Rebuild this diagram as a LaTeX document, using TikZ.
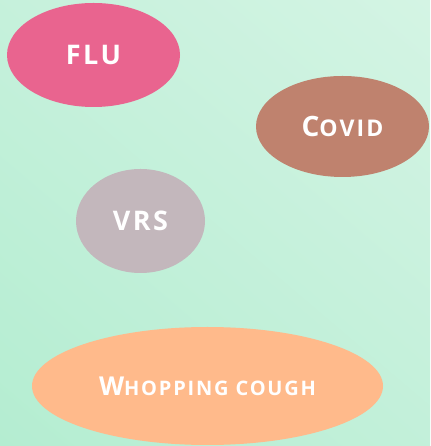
\documentclass[tikz,border=0pt]{standalone}
\usepackage{fontspec}
\setmainfont{Open Sans}
\usepackage{xcolor}
\usetikzlibrary{shapes.geometric,shadings}

\definecolor{bgdark}{HTML}{B4EDD1}
\definecolor{bglight}{HTML}{D4F4E4}
\definecolor{flupink}{HTML}{E9648F}
\definecolor{covidbrown}{HTML}{BF826E}
\definecolor{vrsgray}{HTML}{C3B7BC}
\definecolor{coughpeach}{HTML}{FFBA8B}

% fake small caps: big first letter, smaller rest
\newcommand{\capsz}[2]{{\fontsize{#1}{#1}\selectfont #2}}

\begin{document}
\begin{tikzpicture}[x=1pt,y=1pt,
  bubble/.style={ellipse, inner sep=0pt, text=white,
    font=\bfseries\addfontfeatures{LetterSpace=9}}]
  % Background
  \shade[lower left=bgdark, upper right=bglight,
         upper left=bgdark!45!bglight, lower right=bgdark!55!bglight]
    (0,0) rectangle (430,446);
  % Bubbles
  \node[bubble, fill=flupink, minimum width=173, minimum height=104]
    (flu) at (93.5,391) {\capsz{27}{FLU}};
  \node[bubble, fill=covidbrown, minimum width=173, minimum height=101]
    (covid) at (342.5,319.5) {\capsz{28}{C}\capsz{23}{OVID}};
  \node[bubble, fill=vrsgray, minimum width=129, minimum height=104]
    (vrs) at (140.5,225) {\capsz{27}{VRS}};
  \node[bubble, fill=coughpeach, minimum width=351, minimum height=118]
    (cough) at (207.5,60) {\capsz{26}{W}\capsz{20}{HOPPING COUGH}};
\end{tikzpicture}
\end{document}
